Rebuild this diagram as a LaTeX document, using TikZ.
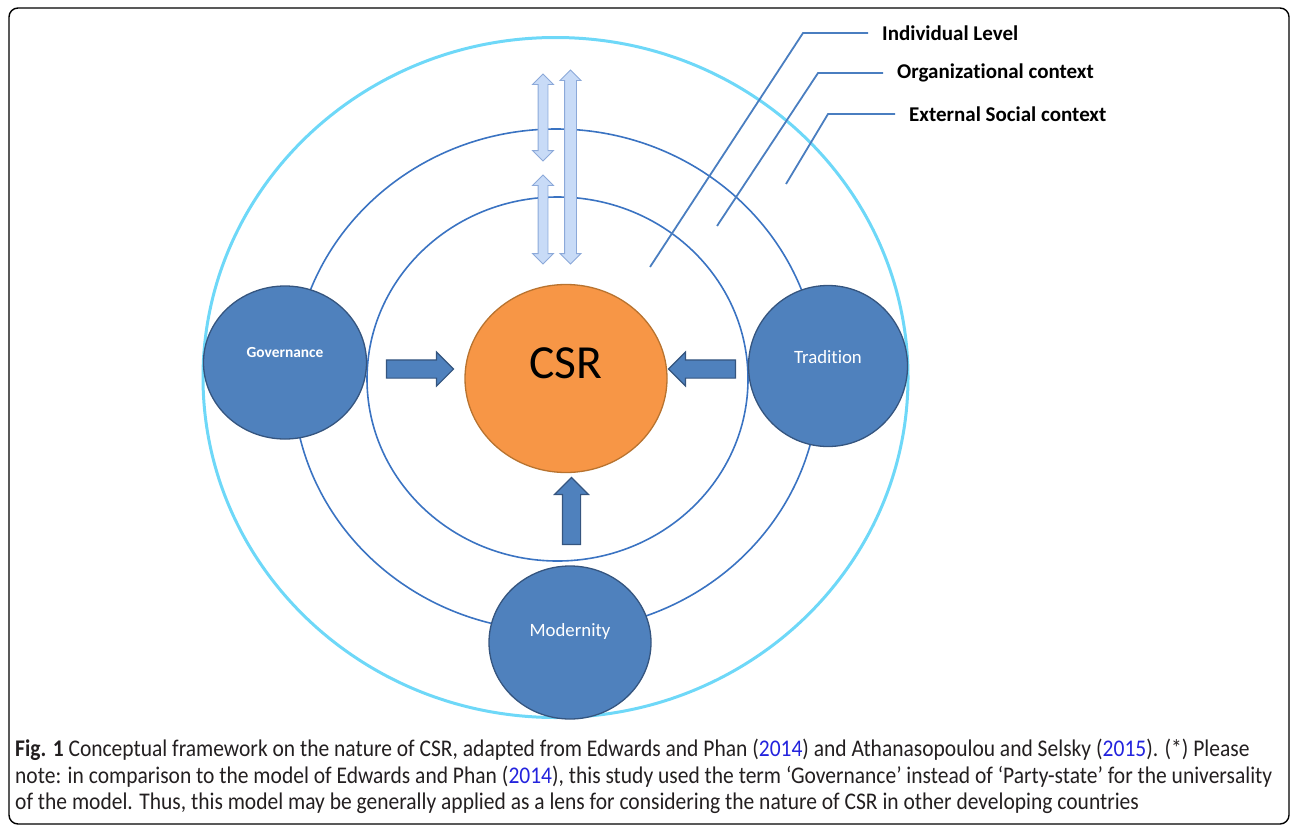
\documentclass[tikz,border=0pt]{standalone}
\usepackage{fontspec}
\setmainfont{Carlito}[Ligatures={NoCommon,NoRare}]
\newfontfamily\capfont{Carlito}[FakeStretch=0.9, Ligatures={NoCommon,NoRare}]
\usetikzlibrary{shapes.geometric,shapes.arrows}
\definecolor{ringcyan}{HTML}{6ED8F8}
\definecolor{ringblue}{HTML}{3A73C2}
\definecolor{nodeblue}{HTML}{4F81BD}
\definecolor{nodeedge}{HTML}{35557F}
\definecolor{csrorange}{HTML}{F79646}
\definecolor{csredge}{HTML}{B8732F}
\definecolor{dblfill}{HTML}{C8DBF7}
\definecolor{dbledge}{HTML}{8CA9D9}
\definecolor{leadblue}{HTML}{4A7EC0}
\definecolor{yearblue}{HTML}{2323DD}
\definecolor{captext}{HTML}{231F20}
\newcommand{\capyear}[1]{\textcolor{yearblue}{#1}}
\tikzset{
  ring/.style={draw=ringblue, line width=1.6pt},
  factor/.style={ellipse, draw=nodeedge, fill=nodeblue, line width=1.3pt, inner sep=0pt},
  factortext/.style={text=white, font=\fontsize{18.8}{22}\selectfont},
  blockarrow/.style={single arrow, draw=nodeedge, fill=nodeblue, line width=1.1pt,
    inner sep=8.5pt, single arrow head extend=8pt, minimum height=67pt},
  twoway/.style={double arrow, draw=dbledge, fill=dblfill, line width=0.9pt,
    inner sep=4.5pt, double arrow head extend=5.5pt, shape border rotate=90},
  leader/.style={draw=leadblue, line width=1.8pt},
  tag/.style={anchor=west, inner xsep=14pt, inner ysep=0pt, font=\bfseries\fontsize{21}{24}\selectfont},
  capline/.style={anchor=base west, inner sep=0pt, text=captext, font=\capfont\fontsize{23.9}{26}\selectfont}
}
\begin{document}
\begin{tikzpicture}[x=1pt, y=-1pt]
\useasboundingbox (0,0) rectangle (1292,827);
% frame
\draw[line width=1.4pt, rounded corners=9pt] (9,8) rectangle (1289,824);
% the three contexts
\draw[ringcyan, line width=3pt] (555.5,377.5) ellipse [x radius=352.5pt, y radius=340pt];
\draw[ring] (556,380) ellipse [x radius=263pt, y radius=251pt];
\draw[ring] (557.5,379) ellipse [x radius=190.5pt, y radius=182pt];
% leader lines and their tags
\node[tag] (ilv) at (868,33) {Individual Level};
\node[tag] (org) at (883,73) {Organizational context};
\node[tag] (ext) at (895,114) {External Social context};
\coordinate (ilvp) at (650,267);
\coordinate (ilvk) at (803,33);
\coordinate (orgp) at (717,226);
\coordinate (orgk) at (818,73);
\coordinate (extp) at (786,184);
\coordinate (extk) at (828,114);
\draw[leader] (ilvp) -- (ilvk) -- (ilv.west);
\draw[leader] (orgp) -- (orgk) -- (org.west);
\draw[leader] (extp) -- (extk) -- (ext.west);
% two-way arrows
\node[twoway, minimum height=87pt] (upa) at (543,117.5) {};
\node[twoway, minimum height=89pt] (upb) at (543,219.5) {};
\node[twoway, minimum height=194pt, inner sep=5.5pt, double arrow head extend=4.5pt] (upc) at (570.5,167) {};
% CSR and its drivers
\node[ellipse, draw=csredge, fill=csrorange, line width=1.3pt, minimum width=202pt, minimum height=188pt,
  label={[font=\fontsize{47.5}{50}\selectfont, yshift=15pt]center:CSR}] (csr) at (566,378.5) {};
\node[factor, minimum width=163pt, minimum height=153pt,
  label={[factortext, font=\bfseries\fontsize{15.4}{18}\selectfont, yshift=10pt]center:Governance}] (gov) at (285,362.5) {};
\node[factor, minimum width=159pt, minimum height=161pt,
  label={[factortext, yshift=9pt]center:Tradition}] (tra) at (828,366) {};
\node[factor, minimum width=162pt, minimum height=153pt,
  label={[factortext, yshift=11pt]center:Modernity}] (mod) at (570,642.5) {};
\node[blockarrow] (govarr) at (415.5,369) {};
\node[blockarrow, shape border rotate=180] (traarr) at (706.5,369) {};
\node[blockarrow, shape border rotate=90] (modarr) at (571.5,515.5) {};
% caption
\node[capline] (cap1) at (15,756) {\textbf{Fig. 1} Conceptual framework on the nature of CSR, adapted from Edwards and Phan (\capyear{2014}) and Athanasopoulou and Selsky (\capyear{2015}). (*) Please};
\node[capline] (cap2) at (15,783) {note: in comparison to the model of Edwards and Phan (\capyear{2014}), this study used the term ‘Governance’ instead of ‘Party-state’ for the universality};
\node[capline] (cap3) at (15,809) {of the model. Thus, this model may be generally applied as a lens for considering the nature of CSR in other developing countries};
\end{tikzpicture}
\end{document}
